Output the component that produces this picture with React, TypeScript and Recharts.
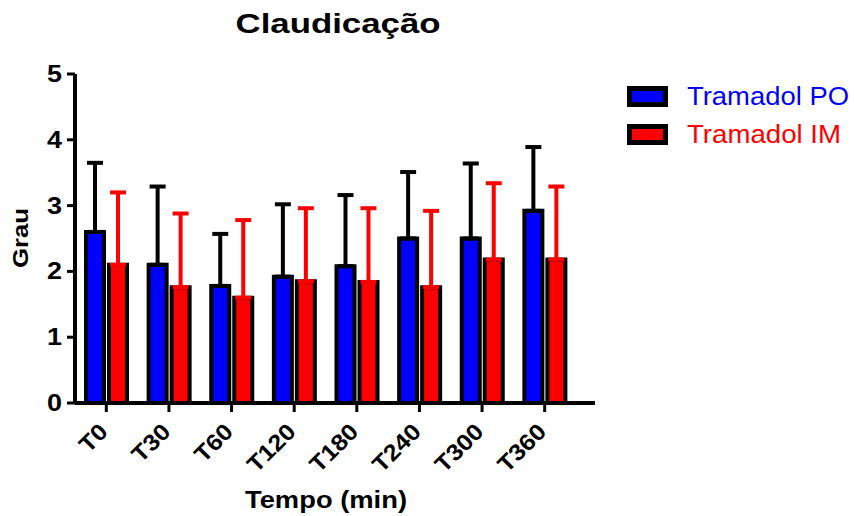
import React from 'react';
import { BarChart, Bar, XAxis, YAxis, ErrorBar } from 'recharts';

const categories = ['T0', 'T30', 'T60', 'T120', 'T180', 'T240', 'T300', 'T360'];
const poMean = [2.6, 2.1, 1.78, 1.92, 2.08, 2.5, 2.5, 2.92];
const poSd = [1.05, 1.19, 0.79, 1.1, 1.08, 1.01, 1.14, 0.97];
const imMean = [2.1, 1.76, 1.6, 1.85, 1.84, 1.76, 2.18, 2.18];
const imSd = [1.1, 1.12, 1.18, 1.11, 1.12, 1.16, 1.16, 1.11];
const yTicks = [0, 1, 2, 3, 4, 5];

const series = [
  { key: 'po', name: 'Tramadol PO', color: '#0000ff', errColor: '#000000' },
  { key: 'im', name: 'Tramadol IM', color: '#ff0000', errColor: '#ff0000' },
];

const data = categories.map((name, i) => ({
  name,
  po: poMean[i],
  poErr: [0, poSd[i]],
  im: imMean[i],
  imErr: [0, imSd[i]],
}));

const FONT = "'Liberation Sans', Arial, sans-serif";

// the source export stretches glyphs a bit horizontally
const XTick = (props: any) => {
  const { x, y, payload } = props;
  const ax = x + 3;
  const ay = y + 19;
  const label = String(payload.value);
  const len = (0.611 + 0.556 * (label.length - 1)) * 23 * 1.1;
  return (
    <text
      x={ax}
      y={ay}
      textAnchor="end"
      transform={`rotate(-45, ${ax}, ${ay})`}
      fontSize={23}
      fontWeight="bold"
      fontFamily={FONT}
      fill="#000"
      textLength={len}
      lengthAdjust="spacingAndGlyphs"
    >
      {label}
    </text>
  );
};

const YTick = (props: any) => {
  const { x, y, payload } = props;
  return (
    <text
      x={x}
      y={y}
      dy={8}
      textAnchor="end"
      fontSize={24}
      fontWeight="bold"
      fontFamily={FONT}
      fill="#000"
      textLength={15}
      lengthAdjust="spacingAndGlyphs"
    >
      {payload.value}
    </text>
  );
};

export default function App() {
  return (
    <div style={{ position: 'absolute', left: 0, top: 0, width: 854, height: 516, background: '#fff' }}>
      <BarChart
        width={854}
        height={516}
        data={data}
        margin={{ top: 74, right: 259, left: 0, bottom: 0 }}
        barSize={18}
        barGap={5}
      >
        <XAxis
          dataKey="name"
          height={113}
          padding={{ left: 0, right: 19 }}
          axisLine={{ stroke: '#000', strokeWidth: 4 }}
          tickLine={{ stroke: '#000', strokeWidth: 3 }}
          tickSize={9}
          tickMargin={2}
          tick={<XTick />}
          interval={0}
        />
        <YAxis
          width={75}
          domain={[0, 5]}
          ticks={yTicks}
          axisLine={{ stroke: '#000', strokeWidth: 4 }}
          tickLine={{ stroke: '#000', strokeWidth: 3 }}
          tickSize={8}
          tickMargin={5}
          tick={<YTick />}
          interval={0}
        />
        {series.map((s) => (
          <Bar
            key={s.key}
            dataKey={s.key}
            name={s.name}
            fill={s.color}
            stroke="#000"
            strokeWidth={4}
            isAnimationActive={false}
          >
            <ErrorBar dataKey={`${s.key}Err`} direction="y" width={8} stroke={s.errColor} strokeWidth={4} />
          </Bar>
        ))}
        {series.map((s, i) => (
          <g key={`leg-${s.key}`}>
            <rect x={629.5} y={88.5 + i * 38} width={36} height={16} fill={s.color} stroke="#000" strokeWidth={5} />
            <text
              x={687}
              y={105 + i * 37.7}
              fontSize={25}
              fontFamily={FONT}
              fill={s.color}
              textLength={i === 0 ? 162 : 154}
              lengthAdjust="spacingAndGlyphs"
            >
              {s.name}
            </text>
          </g>
        ))}
        <text
          x={338}
          y={33}
          textAnchor="middle"
          fontSize={27}
          fontWeight="bold"
          fontFamily={FONT}
          textLength={205}
          lengthAdjust="spacingAndGlyphs"
        >
          Claudicação
        </text>
        <text
          x={326}
          y={508}
          textAnchor="middle"
          fontSize={24}
          fontWeight="bold"
          fontFamily={FONT}
          textLength={162}
          lengthAdjust="spacingAndGlyphs"
        >
          Tempo (min)
        </text>
        <text
          x={28}
          y={238}
          textAnchor="middle"
          transform="rotate(-90, 28, 238)"
          fontSize={22}
          fontWeight="bold"
          fontFamily={FONT}
          textLength={60}
          lengthAdjust="spacingAndGlyphs"
        >
          Grau
        </text>
      </BarChart>
    </div>
  );
}
